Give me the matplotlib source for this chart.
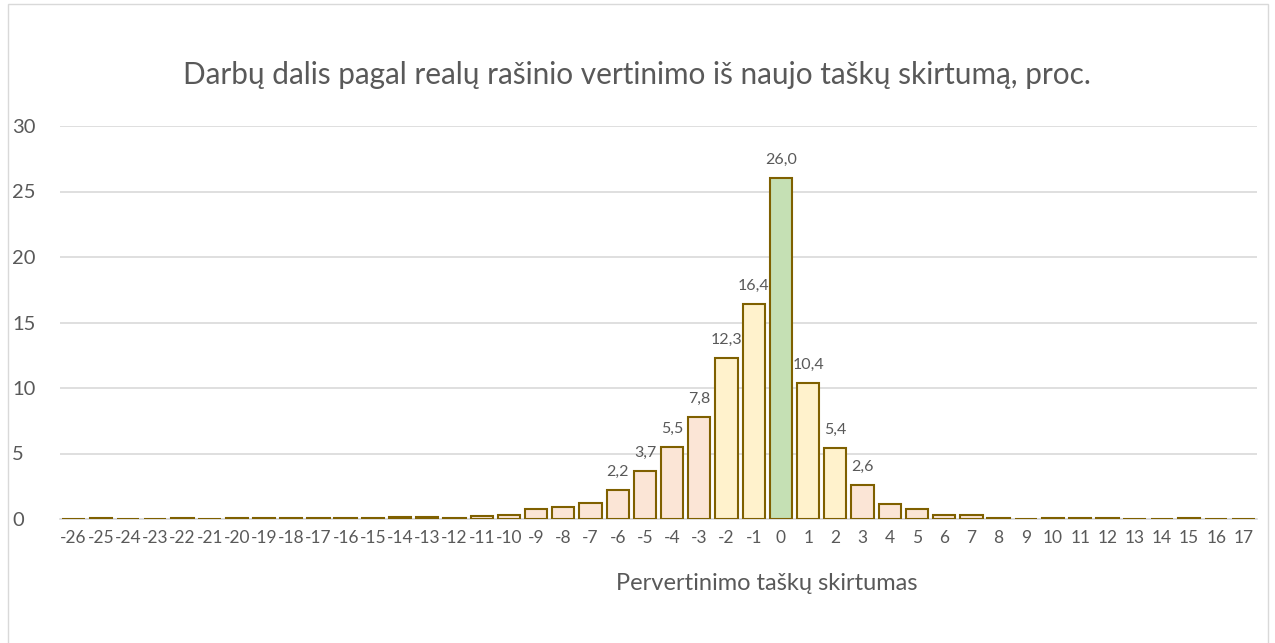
import matplotlib
matplotlib.use("Agg")
import matplotlib.pyplot as plt
from matplotlib.patches import Rectangle

plt.rcParams['font.family'] = ['Lato', 'DejaVu Sans']

categories = list(range(-26, 18))
values = [0.03, 0.05, 0.03, 0.03, 0.05, 0.0, 0.05, 0.05, 0.08, 0.05,
          0.1, 0.1, 0.15, 0.15, 0.1, 0.2, 0.27, 0.8, 0.9, 1.2,
          2.2, 3.7, 5.5, 7.8, 12.3, 16.4, 26.0, 10.4, 5.4, 2.6,
          1.15, 0.8, 0.3, 0.28, 0.1, 0.02, 0.07, 0.07, 0.07, 0.03,
          0.0, 0.05, 0.0, 0.03]
labelled = [-6, -5, -4, -3, -2, -1, 0, 1, 2, 3]
yellow_cats = [-2, -1, 1, 2]
green_cats = [0]
title = "Darbų dalis pagal realų rašinio vertinimo iš naujo taškų skirtumą, proc."
xlabel = "Pervertinimo taškų skirtumas"
yticks = [0, 5, 10, 15, 20, 25, 30]

C_PEACH = "#FBE5D6"
C_YELLOW = "#FFF2CC"
C_GREEN = "#C5E0B4"
C_EDGE = "#7F6000"
C_TEXT = "#595959"
C_GRID = "#D9D9D9"

fig = plt.figure(figsize=(12.75, 6.43), dpi=100)
fig.patches.append(Rectangle((8/1275, -0.01), (1268-8)/1275, 1 - 4/643 + 0.01,
                             transform=fig.transFigure, fill=False,
                             edgecolor=C_GRID, linewidth=1.0))

ax = fig.add_axes([60/1275, 1 - 519/643, (1257-60)/1275, (519-126)/643])

colors = []
for c in categories:
    if c in green_cats:
        colors.append(C_GREEN)
    elif c in yellow_cats:
        colors.append(C_YELLOW)
    else:
        colors.append(C_PEACH)

x = list(range(len(categories)))
bars = ax.bar(x, values, width=0.82, color=colors, edgecolor=C_EDGE,
              linewidth=1.5, zorder=3)

for xi, c, v in zip(x, categories, values):
    if c in labelled:
        ax.annotate(f"{v:.1f}".replace(".", ","), (xi, v), xytext=(0, 8),
                    textcoords="offset points", ha="center", va="bottom",
                    fontsize=11.5, color=C_TEXT)

ax.set_xlim(-0.5, len(categories) - 0.5)
ax.set_ylim(0, 30)
ax.set_yticks(yticks)
ax.set_yticklabels([str(t) for t in yticks])
ax.set_xticks(x)
ax.set_xticklabels([str(c) for c in categories])
ax.tick_params(axis='both', length=0, colors=C_TEXT)
ax.tick_params(axis='x', labelsize=12.5, pad=8)
ax.tick_params(axis='y', labelsize=14.5)
for lbl in ax.get_yticklabels():
    lbl.set_horizontalalignment('left')
ax.yaxis.set_tick_params(pad=34.5)

ax.grid(axis='y', color=C_GRID, linewidth=1.2, zorder=0)
for s in ['top', 'right', 'left']:
    ax.spines[s].set_visible(False)
ax.spines['bottom'].set_color(C_GRID)
ax.spines['bottom'].set_linewidth(1.2)
ax.set_facecolor('white')

fig.text(637/1275, 1 - 75/643, title, ha='center', va='center',
         fontsize=21.4, color=C_TEXT)
fig.text(767/1275, 1 - 583/643, xlabel, ha='center', va='center',
         fontsize=17, color=C_TEXT)

fig.savefig("out.png", dpi=100, facecolor='white')
